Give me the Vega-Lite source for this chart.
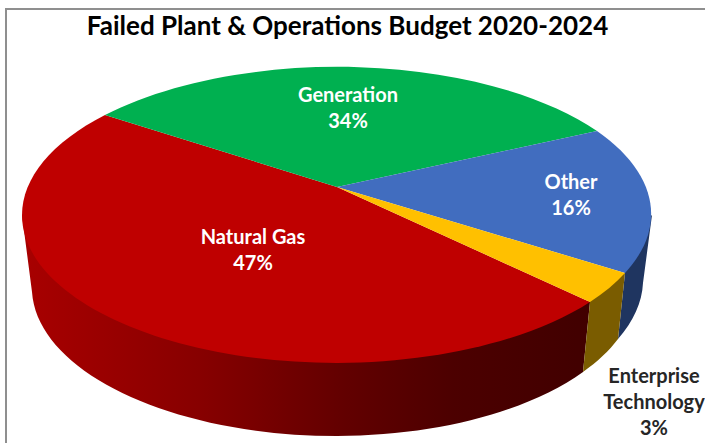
{
  "$schema": "https://vega.github.io/schema/vega-lite/v6.json",
  "width": 705,
  "height": 443,
  "autosize": "none",
  "padding": 0,
  "background": "#ffffff",
  "view": {"stroke": null},
  "title": {
    "text": "Failed Plant & Operations Budget 2020-2024",
    "font": "Lato",
    "fontWeight": "bold",
    "fontSize": 26,
    "color": "#000000",
    "anchor": "middle",
    "orient": "top",
    "offset": -40,
    "dx": -5
  },
  "data": {
    "values": [
      {"slice": "Natural Gas", "share": 47, "label": "Natural Gas\n47%"},
      {"slice": "Generation", "share": 34, "label": "Generation\n34%"},
      {"slice": "Other", "share": 16, "label": "Other\n16%"},
      {"slice": "Enterprise Technology", "share": 3, "label": "Enterprise\nTechnology\n3%"}
    ]
  },
  "layer": [
    {
      "data": {"values": [{"part": "chart frame"}]},
      "mark": {
        "type": "point",
        "size": 4,
        "filled": false,
        "opacity": 1,
        "stroke": "#8f8f8f",
        "strokeWidth": 2,
        "shape": "M-346.5,221.5 L-346.5,-212.5 L352.5,-212.5"
      }
    },
    {
      "transform": [{"filter": "datum.slice === 'Natural Gas'"}],
      "mark": {
        "type": "point",
        "size": 4,
        "filled": true,
        "opacity": 1,
        "strokeWidth": 0,
        "shape": "M-330.5,-6.5 L-320.5,70.5 A305,149 0 0 0 -15.5,214.5 A300,149 0 0 0 230.5,150.5 L237.5,80.5 L200,70 L-15.5,100 Z",
        "fill": {
          "gradient": "linear",
          "x1": 0, "y1": 0, "x2": 1, "y2": 0,
          "stops": [
            {"offset": 0, "color": "#a80000"},
            {"offset": 0.18, "color": "#960000"},
            {"offset": 0.32, "color": "#860000"},
            {"offset": 0.56, "color": "#630000"},
            {"offset": 0.76, "color": "#4c0000"},
            {"offset": 1, "color": "#410000"}
          ]
        }
      }
    },
    {
      "transform": [{"filter": "datum.share < 20"}],
      "mark": {"type": "point", "size": 4, "filled": true, "opacity": 1, "strokeWidth": 0},
      "encoding": {
        "shape": {
          "field": "slice",
          "type": "nominal",
          "legend": null,
          "scale": {
            "domain": ["Other", "Enterprise Technology"],
            "range": [
              "M272.5,51.5 L265.5,117.5 A300,149 0 0 0 290.5,61.5 L299.5,-6.5 L260,30 Z",
              "M237.5,80.5 L230.5,150.5 A300,149 0 0 0 265.5,117.5 L272.5,51.5 L230,60 Z"
            ]
          }
        },
        "color": {
          "field": "slice",
          "type": "nominal",
          "legend": null,
          "scale": {"domain": ["Other", "Enterprise Technology"], "range": ["#1f3560", "#7a5c00"]}
        }
      }
    },
    {
      "mark": {"type": "point", "size": 4, "filled": true, "opacity": 1, "strokeWidth": 0},
      "encoding": {
        "shape": {
          "field": "slice",
          "type": "nominal",
          "legend": null,
          "scale": {
            "domain": ["Natural Gas", "Generation", "Other", "Enterprise Technology"],
            "range": [
              "M-15.5,-34.5 L-247.5,-106.5 A315,148 0 0 0 -330.5,-6.5 A315,148 0 0 0 -15.5,141.5 A315,148 0 0 0 237.5,80.5 Z",
              "M-15.5,-34.5 L244.5,-90.5 A315,148 0 0 0 -247.5,-106.5 Z",
              "M-15.5,-34.5 L272.5,51.5 A315,148 0 0 0 244.5,-90.5 Z",
              "M-15.5,-34.5 L237.5,80.5 A315,148 0 0 0 272.5,51.5 Z"
            ]
          }
        },
        "color": {
          "field": "slice",
          "type": "nominal",
          "legend": null,
          "scale": {
            "domain": ["Natural Gas", "Generation", "Other", "Enterprise Technology"],
            "range": ["#bf0000", "#00b050", "#416dbf", "#ffc000"]
          }
        }
      }
    },
    {
      "mark": {
        "type": "text",
        "font": "Lato",
        "fontWeight": "bold",
        "fontSize": 20,
        "lineBreak": "\n",
        "lineHeight": 26,
        "align": "center",
        "baseline": "middle"
      },
      "encoding": {
        "text": {"field": "label"},
        "x": {
          "field": "share",
          "type": "quantitative",
          "axis": null,
          "scale": {"domain": [3, 16, 34, 47], "range": [654, 571, 348, 253]}
        },
        "y": {
          "field": "share",
          "type": "quantitative",
          "axis": null,
          "scale": {"domain": [3, 16, 34, 47], "range": [377, 183, 96, 238]}
        },
        "color": {
          "condition": {"test": "datum.share > 3", "value": "#ffffff"},
          "value": "#262626"
        }
      }
    }
  ],
  "resolve": {"scale": {"shape": "independent", "color": "independent"}}
}
